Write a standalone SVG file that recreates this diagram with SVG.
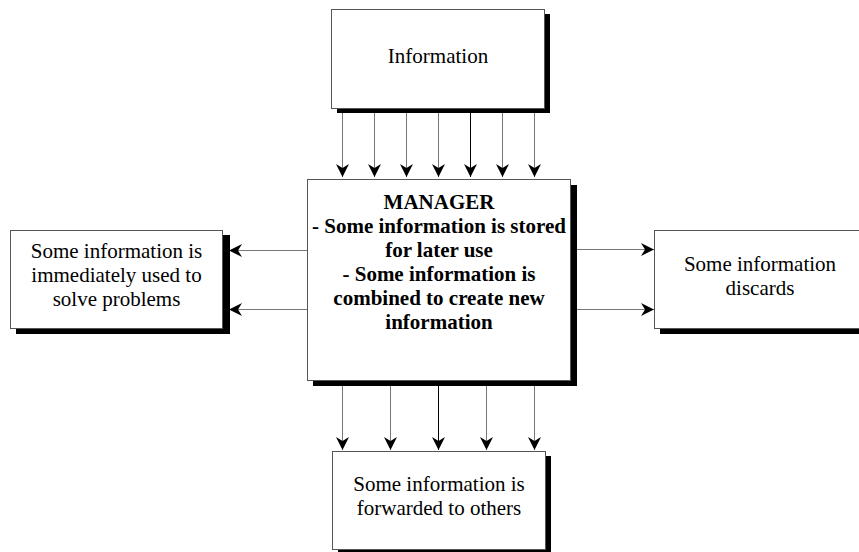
<svg xmlns="http://www.w3.org/2000/svg" width="859" height="552" viewBox="0 0 859 552">
<defs>
<style>
.box{fill:#fff;stroke:#555;stroke-width:1}
.sh{fill:#000}
.t{font-family:"Liberation Serif","Times New Roman",serif;font-size:21px;fill:#000;text-anchor:middle}
.b{font-weight:bold}
.c{stroke:#777;stroke-width:1;fill:none;marker-end:url(#ah)}
.d{stroke:#000}
</style>
<marker id="ah" markerUnits="userSpaceOnUse" markerWidth="16" markerHeight="16" viewBox="0 0 16 16" refX="14" refY="8" orient="auto">
<path d="M1,1.5 L14,8 L1,14.5 L5,8 Z" fill="#000"/>
</marker>
</defs>
<rect width="859" height="552" fill="#fff"/>
<g id="connectors">
<line class="c" x1="342.5" y1="113" x2="342.5" y2="177"/>
<line class="c" x1="374.5" y1="113" x2="374.5" y2="177"/>
<line class="c" x1="406.5" y1="113" x2="406.5" y2="177"/>
<line class="c" x1="438.5" y1="113" x2="438.5" y2="177"/>
<line class="c d" x1="470.5" y1="113" x2="470.5" y2="177"/>
<line class="c" x1="502.5" y1="113" x2="502.5" y2="177"/>
<line class="c" x1="534.5" y1="113" x2="534.5" y2="177"/>
<line class="c" x1="307" y1="250.5" x2="229" y2="250.5"/>
<line class="c" x1="307" y1="309.5" x2="229" y2="309.5"/>
<line class="c" x1="577" y1="249.5" x2="654" y2="249.5"/>
<line class="c" x1="577" y1="309.5" x2="654" y2="309.5"/>
<line class="c" x1="342.5" y1="386" x2="342.5" y2="450"/>
<line class="c" x1="390.5" y1="386" x2="390.5" y2="450"/>
<line class="c d" x1="438.5" y1="386" x2="438.5" y2="450"/>
<line class="c" x1="486.5" y1="386" x2="486.5" y2="450"/>
<line class="c" x1="534.5" y1="386" x2="534.5" y2="450"/>
</g>
<g id="information">
<rect class="sh" x="337" y="14" width="213" height="99"/>
<rect class="box" x="331.5" y="9.5" width="213" height="99"/>
<text class="t" x="438" y="63">Information</text>
</g>
<g id="manager">
<rect class="sh" x="313" y="185" width="264" height="201"/>
<rect class="box" x="307.5" y="179.5" width="263" height="201"/>
<text class="t b" x="439" y="209">MANAGER</text>
<text class="t b" x="439" y="233">- Some information is stored</text>
<text class="t b" x="439" y="257">for later use</text>
<text class="t b" x="439" y="281">- Some information is</text>
<text class="t b" x="439" y="305">combined to create new</text>
<text class="t b" x="439" y="329">information</text>
</g>
<g id="used">
<rect class="sh" x="16" y="235" width="214" height="99"/>
<rect class="box" x="10.5" y="230.5" width="212" height="98"/>
<text class="t" x="116.5" y="258">Some information is</text>
<text class="t" x="116.5" y="282">immediately used to</text>
<text class="t" x="116.5" y="306">solve problems</text>
</g>
<g id="discards">
<rect class="sh" x="660" y="235" width="212" height="99"/>
<rect class="box" x="654.5" y="230.5" width="212" height="98"/>
<text class="t" x="760" y="271">Some information</text>
<text class="t" x="760" y="295">discards</text>
</g>
<g id="forwarded">
<rect class="sh" x="338" y="456" width="213" height="99"/>
<rect class="box" x="332.5" y="451.5" width="213" height="98"/>
<text class="t" x="439" y="491">Some information is</text>
<text class="t" x="439" y="515">forwarded to others</text>
</g>
</svg>
